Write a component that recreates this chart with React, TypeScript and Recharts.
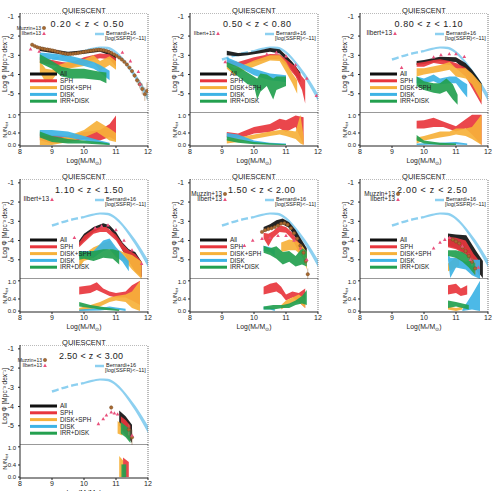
import React from 'react'
import {
  ComposedChart,
  Area,
  Scatter,
  ErrorBar,
  XAxis,
  YAxis,
  ReferenceLine,
} from 'recharts'

type Row = number[]

// Bernardi+16, log(sSFR) < -11 — the same local curve is shown in every bin
const BERNARDI_LOW: Row[] = [[9.0, -3.22], [9.25, -3.08], [9.5, -2.96], [9.75, -2.86], [10.0, -2.78]]
const BERNARDI_HIGH: Row[] = [
  [10.0, -2.83, -2.72], [10.25, -2.72, -2.61], [10.5, -2.65, -2.54], [10.75, -2.69, -2.56],
  [11.0, -2.93, -2.78], [11.2, -3.27, -3.1], [11.4, -3.72, -3.5], [11.6, -4.22, -3.95],
  [11.8, -4.78, -4.45], [12.0, -5.38, -5.0],
]

// 0.20 < z < 0.50
const Z1_ALL: Row[] = [[8.62, -2.78, -2.55], [9.0, -2.88, -2.68], [9.5, -3.0, -2.82], [10.0, -2.92, -2.74], [10.5, -2.82, -2.64], [10.8, -3.0, -2.75], [11.0, -3.55, -3.0]]
const Z1_SPH: Row[] = [[8.62, -3.4, -3.1], [9.0, -3.5, -3.25], [9.3, -3.6, -3.35], [9.6, -3.65, -3.4], [10.0, -3.35, -3.1], [10.5, -3.15, -2.9], [10.8, -3.2, -2.95], [11.0, -3.6, -3.15]]
const Z1_DSPH: Row[] = [[8.62, -3.9, -3.3], [8.8, -4.4, -3.7], [9.0, -4.3, -3.75], [9.2, -3.85, -3.5], [9.5, -3.7, -3.35], [10.0, -3.55, -3.2], [10.3, -3.35, -3.0], [10.5, -3.8, -3.3], [10.8, -3.5, -3.05], [11.0, -3.75, -3.3]]
const Z1_DISK: Row[] = [[8.62, -3.25, -2.85], [9.0, -3.2, -2.9], [9.5, -3.35, -3.0], [10.0, -3.55, -3.2], [10.3, -3.7, -3.35], [10.5, -3.9, -3.5], [10.8, -4.3, -3.8]]
const Z1_IRR: Row[] = [[8.62, -3.4, -2.95], [9.0, -3.7, -3.3], [9.3, -4.1, -3.6], [9.6, -4.2, -3.7], [10.0, -4.2, -3.7], [10.5, -4.3, -3.85], [10.7, -4.45, -3.9]]
const Z1_FSPH: Row[] = [[8.62, 0.16, 0.38], [9.0, 0.05, 0.33], [9.5, 0.1, 0.3], [10.0, 0.2, 0.43], [10.5, 0.15, 0.5], [10.8, 0.27, 0.7], [11.0, 0.15, 0.98]]
const Z1_FDSPH: Row[] = [[8.62, 0.0, 0.27], [9.0, 0.0, 0.15], [9.5, 0.1, 0.3], [10.0, 0.25, 0.5], [10.4, 0.43, 0.8], [10.8, 0.15, 0.55], [11.0, 0.1, 0.4]]
const Z1_FDISK: Row[] = [[8.62, 0.3, 0.5], [9.0, 0.3, 0.5], [9.5, 0.25, 0.45], [10.0, 0.15, 0.3], [10.5, 0.05, 0.15], [10.8, 0.0, 0.08]]
const Z1_FIRR: Row[] = [[8.62, 0.25, 0.45], [9.0, 0.1, 0.3], [9.5, 0.05, 0.2], [10.0, 0.05, 0.15], [10.5, 0.02, 0.1], [10.8, 0.0, 0.05]]
const Z1_MUZZIN: Row[] = [
  [8.38, -2.45, 0.05], [8.46, -2.52, 0.04], [8.54, -2.58, 0.04], [8.62, -2.62, 0.04], [8.7, -2.65, 0.03],
  [8.78, -2.68, 0.03], [8.86, -2.7, 0.03], [8.94, -2.72, 0.03], [9.02, -2.75, 0.03], [9.1, -2.78, 0.03],
  [9.18, -2.82, 0.03], [9.26, -2.86, 0.03], [9.34, -2.89, 0.03], [9.42, -2.92, 0.03], [9.5, -2.93, 0.03],
  [9.58, -2.93, 0.03], [9.66, -2.92, 0.03], [9.74, -2.9, 0.03], [9.82, -2.88, 0.03], [9.9, -2.86, 0.03],
  [9.98, -2.83, 0.03], [10.06, -2.8, 0.03], [10.14, -2.78, 0.03], [10.22, -2.76, 0.03], [10.3, -2.74, 0.03],
  [10.38, -2.72, 0.03], [10.46, -2.71, 0.03], [10.54, -2.72, 0.03], [10.62, -2.74, 0.03], [10.7, -2.77, 0.03],
  [10.78, -2.82, 0.03], [10.86, -2.88, 0.04], [10.94, -2.95, 0.04], [11.02, -3.03, 0.04], [11.1, -3.12, 0.05],
  [11.18, -3.22, 0.05], [11.26, -3.34, 0.06], [11.34, -3.48, 0.07], [11.42, -3.64, 0.08], [11.5, -3.82, 0.1],
  [11.58, -4.05, 0.12], [11.66, -4.3, 0.16], [11.74, -4.5, 0.22], [11.82, -4.75, 0.28], [11.9, -5.02, 0.35],
  [11.97, -4.85, 0.45],
]
const Z1_ILBERT: Row[] = [[8.33, -2.68], [8.6, -2.8], [11.2, -2.85], [11.45, -3.3], [11.7, -3.85], [11.75, -4.5]]

// 0.50 < z < 0.80
const Z2_ALL: Row[] = [[9.15, -3.0, -2.76], [9.5, -3.05, -2.88], [9.8, -3.0, -2.85], [10.0, -2.95, -2.8], [10.5, -2.82, -2.62], [10.8, -2.9, -2.68], [11.0, -3.27, -3.0], [11.2, -3.8, -3.35], [11.45, -4.4, -3.9]]
const Z2_SPH: Row[] = [[9.15, -3.45, -3.25], [9.5, -3.6, -3.35], [10.0, -3.35, -3.1], [10.5, -3.2, -2.93], [10.8, -3.2, -2.95], [11.0, -3.5, -3.2], [11.3, -4.1, -3.6], [11.5, -4.8, -4.1], [11.6, -5.5, -4.3]]
const Z2_DSPH: Row[] = [[9.15, -3.7, -3.44], [9.4, -4.05, -3.7], [9.6, -3.85, -3.55], [10.0, -3.6, -3.27], [10.5, -3.27, -3.0], [10.8, -3.3, -3.0], [11.0, -3.87, -3.35], [11.2, -4.46, -3.95], [11.35, -5.0, -4.3]]
const Z2_DISK: Row[] = [[9.15, -3.44, -3.1], [9.5, -3.6, -3.35], [10.0, -4.04, -3.7], [10.5, -4.3, -3.95], [10.8, -4.35, -4.0], [11.0, -4.4, -4.04]]
const Z2_IRR: Row[] = [[9.15, -3.6, -3.35], [9.5, -4.1, -3.6], [9.8, -4.5, -3.9], [10.0, -4.6, -4.1], [10.1, -5.3, -4.2], [10.2, -4.9, -3.95], [10.4, -4.6, -4.0], [10.6, -5.3, -4.2], [10.7, -4.8, -4.1], [11.0, -4.6, -4.1]]
const Z2_FSPH: Row[] = [[9.15, 0.27, 0.43], [9.5, 0.2, 0.38], [10.0, 0.38, 0.6], [10.5, 0.43, 0.7], [10.8, 0.55, 0.87], [11.0, 0.43, 0.82], [11.3, 0.6, 0.98], [11.55, 0.0, 0.92]]
const Z2_FDSPH: Row[] = [[9.15, 0.05, 0.2], [9.5, 0.1, 0.25], [10.0, 0.2, 0.35], [10.5, 0.3, 0.45], [10.8, 0.35, 0.5], [11.0, 0.3, 0.5], [11.3, 0.2, 0.45], [11.45, 0.05, 1.0], [11.55, 0.0, 0.3]]
const Z2_FDISK: Row[] = [[9.15, 0.25, 0.4], [9.5, 0.2, 0.35], [10.0, 0.05, 0.15], [10.5, 0.02, 0.08], [11.0, 0.0, 0.05]]
const Z2_FIRR: Row[] = [[9.15, 0.15, 0.28], [9.5, 0.08, 0.2], [10.0, 0.03, 0.1], [10.5, 0.01, 0.06], [11.0, 0.0, 0.03]]
const Z2_ILBERT: Row[] = [[9.1, -3.35], [10.4, -2.95], [10.7, -2.85], [11.0, -3.05], [11.3, -3.5], [11.65, -4.2], [11.95, -5.1]]

// 0.80 < z < 1.10
const Z3_ALL: Row[] = [[9.77, -3.5, -3.3], [10.0, -3.45, -3.25], [10.5, -3.3, -3.07], [11.0, -3.35, -3.1], [11.3, -3.8, -3.4], [11.5, -4.5, -3.75], [11.7, -5.05, -4.2], [11.8, -5.3, -4.45]]
const Z3_SPH: Row[] = [[9.77, -3.6, -3.4], [10.0, -3.6, -3.35], [10.3, -3.4, -3.25], [10.5, -3.45, -3.2], [10.8, -3.5, -3.3], [11.0, -3.67, -3.4], [11.3, -4.1, -3.65], [11.5, -4.7, -4.0], [11.8, -5.57, -4.7]]
const Z3_DSPH: Row[] = [[9.77, -4.1, -3.67], [10.0, -4.0, -3.67], [10.5, -3.85, -3.5], [10.8, -3.75, -3.35], [11.0, -4.1, -3.67], [11.3, -4.2, -3.67], [11.5, -4.5, -3.95], [11.8, -5.4, -4.5]]
const Z3_DISK: Row[] = [[9.77, -4.45, -4.1], [10.0, -4.45, -4.2], [10.3, -4.35, -4.0], [10.5, -4.5, -4.2], [10.8, -4.45, -4.1], [11.0, -4.45, -4.1], [11.2, -4.9, -4.35], [11.35, -5.2, -4.5]]
const Z3_IRR: Row[] = [[9.77, -4.6, -4.1], [10.0, -4.8, -4.35], [10.3, -4.95, -4.45], [10.5, -5.0, -4.45], [10.7, -4.85, -4.2], [10.9, -5.3, -4.5], [11.05, -5.57, -5.05]]
const Z3_FSPH: Row[] = [[9.77, 0.55, 0.8], [10.0, 0.55, 0.82], [10.3, 0.6, 0.9], [10.6, 0.6, 0.78], [11.0, 0.45, 0.62], [11.3, 0.55, 0.85], [11.5, 0.35, 1.0], [11.8, 0.0, 1.0]]
const Z3_FDSPH: Row[] = [[9.77, 0.05, 0.25], [10.0, 0.15, 0.3], [10.5, 0.25, 0.45], [10.8, 0.3, 0.45], [11.0, 0.35, 0.55], [11.3, 0.3, 0.55], [11.5, 0.2, 0.6], [11.8, 0.0, 1.0]]
const Z3_FDISK: Row[] = [[9.77, 0.0, 0.05], [10.5, 0.02, 0.08], [11.0, 0.02, 0.1], [11.35, 0.0, 0.05]]
const Z3_FIRR: Row[] = [[9.77, 0.15, 0.33], [10.0, 0.05, 0.15], [10.5, 0.0, 0.08], [11.0, 0.0, 0.05]]
const Z3_ILBERT: Row[] = [[9.3, -3.65], [10.3, -3.1], [10.53, -2.98], [10.79, -2.93], [11.0, -2.93], [11.26, -3.07]]

// 1.10 < z < 1.50
const Z4_ALL: Row[] = [[9.85, -4.27, -4.0], [10.0, -4.0, -3.65], [10.3, -3.55, -3.3], [10.6, -3.3, -3.1], [10.8, -3.4, -3.2], [11.0, -3.9, -3.55], [11.2, -4.5, -4.1], [11.4, -5.07, -4.45], [11.6, -5.6, -4.6], [11.8, -5.9, -5.1]]
const Z4_SPH: Row[] = [[9.85, -4.35, -4.1], [10.0, -4.1, -3.75], [10.3, -3.65, -3.4], [10.5, -3.55, -3.3], [10.7, -3.55, -3.3], [11.0, -4.0, -3.7], [11.2, -4.5, -4.15], [11.4, -5.07, -4.5], [11.6, -5.6, -4.7], [11.8, -5.9, -5.1]]
const Z4_DSPH: Row[] = [[9.85, -5.4, -5.0], [10.0, -5.07, -4.7], [10.3, -4.9, -4.35], [10.5, -4.55, -4.2], [10.8, -4.45, -4.0], [11.0, -4.9, -4.45], [11.3, -5.1, -4.65], [11.5, -5.5, -4.75], [11.8, -6.0, -5.1]]
const Z4_DISK: Row[] = [[9.85, -4.9, -4.55], [10.0, -4.8, -4.55], [10.3, -4.9, -4.55], [10.6, -4.55, -4.0], [10.8, -4.45, -3.9], [11.0, -4.8, -4.35], [11.2, -5.1, -4.7], [11.4, -5.6, -5.07]]
const Z4_IRR: Row[] = [[9.85, -5.0, -4.55], [10.0, -4.95, -4.6], [10.3, -5.07, -4.55], [10.6, -4.9, -4.45], [10.9, -4.95, -4.45], [11.1, -5.25, -4.55]]
const Z4_FSPH: Row[] = [[9.85, 0.55, 0.8], [10.2, 0.6, 0.85], [10.4, 0.7, 0.95], [10.6, 0.6, 0.75], [10.8, 0.5, 0.65], [11.0, 0.45, 0.6], [11.3, 0.45, 0.65], [11.5, 0.35, 0.85], [11.75, 0.2, 1.0]]
const Z4_FDSPH: Row[] = [[9.85, 0.0, 0.1], [10.2, 0.05, 0.2], [10.5, 0.15, 0.3], [10.8, 0.3, 0.45], [11.0, 0.35, 0.5], [11.3, 0.3, 0.55], [11.5, 0.1, 0.65], [11.75, 0.0, 1.0]]
const Z4_FDISK: Row[] = [[9.85, 0.0, 0.05], [10.5, 0.02, 0.1], [10.8, 0.05, 0.15], [11.0, 0.05, 0.12], [11.3, 0.0, 0.08]]
const Z4_FIRR: Row[] = [[9.85, 0.15, 0.3], [10.2, 0.1, 0.2], [10.5, 0.05, 0.15], [10.8, 0.03, 0.1], [11.1, 0.0, 0.05]]
const Z4_ILBERT: Row[] = [[9.7, -3.85], [10.35, -3.35], [10.55, -3.25], [10.75, -3.2], [11.0, -3.45], [11.25, -4.0], [11.5, -4.5], [11.8, -5.2]]

// 1.50 < z < 2.00
const Z5_ALL: Row[] = [[10.3, -3.55, -3.3], [10.5, -3.42, -3.15], [10.7, -3.22, -2.95], [10.9, -3.15, -2.85], [11.1, -3.35, -3.05], [11.3, -3.85, -3.45], [11.5, -4.6, -4.0], [11.65, -5.0, -4.4]]
const Z5_SPH: Row[] = [[10.3, -3.9, -3.6], [10.45, -4.3, -3.65], [10.6, -3.85, -3.5], [10.8, -3.55, -3.2], [11.0, -3.6, -3.3], [11.2, -3.95, -3.6], [11.4, -4.6, -4.1], [11.6, -5.07, -4.5]]
const Z5_DSPH: Row[] = [[10.85, -4.6, -4.1], [11.1, -4.5, -3.95], [11.3, -4.5, -4.0], [11.5, -4.8, -4.25], [11.65, -5.5, -4.6]]
const Z5_DISK: Row[] = [[10.3, -4.54, -4.27], [10.5, -4.6, -4.35], [10.65, -4.8, -4.45]]
const Z5_IRR: Row[] = [[10.3, -4.63, -4.27], [10.5, -4.75, -4.4], [10.7, -4.95, -4.3], [10.9, -5.25, -4.6], [11.1, -5.1, -4.55], [11.3, -5.35, -4.8], [11.5, -5.25, -4.4], [11.65, -5.35, -4.55]]
const Z5_FSPH: Row[] = [[10.3, 0.55, 0.8], [10.5, 0.6, 0.9], [10.7, 0.65, 0.95], [10.85, 0.55, 0.8], [11.0, 0.35, 0.55], [11.2, 0.45, 0.65], [11.4, 0.3, 0.6], [11.6, 0.1, 0.75]]
const Z5_FDSPH: Row[] = [[10.85, 0.05, 0.2], [11.0, 0.15, 0.35], [11.2, 0.25, 0.45], [11.4, 0.3, 0.55], [11.6, 0.1, 0.4]]
const Z5_FDISK: Row[] = [[10.3, 0.05, 0.15], [10.5, 0.05, 0.12], [10.65, 0.0, 0.08]]
const Z5_FIRR: Row[] = [[10.3, 0.05, 0.15], [10.6, 0.05, 0.2], [10.9, 0.1, 0.2], [11.1, 0.1, 0.25], [11.3, 0.2, 0.35], [11.5, 0.25, 0.5], [11.65, 0.2, 0.7]]
const Z5_MUZZIN: Row[] = [
  [10.25, -3.55, 0.05], [10.35, -3.46, 0.04], [10.45, -3.4, 0.04], [10.55, -3.36, 0.04], [10.65, -3.3, 0.04],
  [10.75, -3.22, 0.04], [10.85, -3.12, 0.04], [10.95, -3.1, 0.04], [11.05, -3.18, 0.05], [11.15, -3.36, 0.05],
  [11.25, -3.62, 0.06], [11.35, -3.9, 0.08], [11.45, -4.27, 0.1], [11.55, -4.63, 0.14], [11.62, -5.07, 0.2],
  [11.68, -5.75, 0.3],
]
const Z5_ILBERT: Row[] = [[9.7, -4.27], [9.96, -4.0], [10.25, -3.9], [10.5, -3.85], [10.75, -3.75], [11.0, -3.75], [11.25, -4.0], [11.45, -4.4], [11.65, -5.0]]

// 2.00 < z < 2.50
const Z6_ALL: Row[] = [[10.75, -4.27, -3.64], [11.0, -4.4, -3.68], [11.32, -4.7, -3.73], [11.63, -5.5, -4.54], [11.84, -5.96, -5.07]]
const Z6_SPH: Row[] = [[10.75, -4.35, -3.8], [11.0, -4.45, -3.85], [11.3, -4.75, -4.0], [11.55, -5.3, -4.7], [11.75, -5.9, -5.1]]
const Z6_DSPH: Row[] = [[10.75, -5.6, -5.2], [10.9, -5.5, -5.0], [11.0, -5.4, -4.8], [11.1, -5.3, -4.95]]
const Z6_DISK: Row[] = [[10.75, -5.0, -4.7], [10.82, -5.95, -4.9], [11.0, -5.4, -4.9], [11.3, -5.5, -5.1], [11.5, -5.8, -5.0], [11.75, -6.0, -5.0]]
const Z6_IRR: Row[] = [[10.75, -4.8, -4.5], [11.0, -4.9, -4.5], [11.2, -5.1, -4.6], [11.4, -5.4, -4.8], [11.6, -5.8, -5.2]]
const Z6_FSPH: Row[] = [[10.75, 0.55, 0.85], [11.0, 0.6, 0.9], [11.15, 0.5, 0.75], [11.35, 0.55, 0.85]]
const Z6_FDSPH: Row[] = [[10.75, 0.05, 0.15], [11.0, 0.0, 0.1], [11.2, 0.05, 0.15]]
const Z6_FDISK: Row[] = [[11.2, 0.0, 0.05], [11.5, 0.05, 0.55], [11.75, 0.0, 1.0]]
const Z6_FIRR: Row[] = [[10.75, 0.1, 0.35], [11.0, 0.15, 0.3], [11.2, 0.1, 0.25], [11.4, 0.05, 0.2]]
const Z6_MUZZIN: Row[] = [[10.9, -3.95, 0.08], [11.0, -4.05, 0.08], [11.1, -4.15, 0.1], [11.2, -4.35, 0.1], [11.3, -4.55, 0.12], [11.4, -4.8, 0.15], [11.5, -5.1, 0.2], [11.6, -5.45, 0.3]]
const Z6_ILBERT: Row[] = [[10.3, -4.4], [10.5, -4.1], [10.65, -3.95], [10.8, -3.85], [11.2, -4.3], [11.45, -5.0], [11.7, -5.4]]

// 2.50 < z < 3.00
const Z7_ALL: Row[] = [[11.1, -5.0, -4.2], [11.3, -5.4, -4.5], [11.5, -5.9, -4.95]]
const Z7_SPH: Row[] = [[11.15, -5.2, -4.5], [11.3, -5.5, -4.7], [11.45, -5.8, -5.0]]
const Z7_DSPH: Row[] = [[11.05, -5.4, -4.75], [11.2, -5.5, -4.95]]
const Z7_DISK: Row[] = []
const Z7_IRR: Row[] = [[11.15, -5.4, -4.8], [11.3, -5.6, -5.0], [11.45, -5.9, -5.2]]
const Z7_FSPH: Row[] = [[11.22, 0.0, 0.65], [11.4, 0.0, 0.5]]
const Z7_FDSPH: Row[] = [[11.1, 0.0, 0.7], [11.22, 0.0, 0.55]]
const Z7_FDISK: Row[] = []
const Z7_FIRR: Row[] = [[11.17, 0.0, 0.42], [11.32, 0.0, 0.42]]
const Z7_MUZZIN: Row[] = [[10.85, -4.05, 0.1], [11.4, -5.2, 0.3], [11.5, -5.6, 0.4]]
const Z7_ILBERT: Row[] = [[10.45, -4.9], [10.6, -4.65], [10.7, -4.45], [10.85, -4.3], [10.95, -4.35], [11.05, -4.4], [11.5, -5.5]]

const Z_LABELS = [
  '0.20 < z < 0.50', '0.50 < z < 0.80', '0.80 < z < 1.10', '1.10 < z < 1.50',
  '1.50 < z < 2.00', '2.00 < z < 2.50', '2.50 < z < 3.00',
]

const PANELS = [
  { all: Z1_ALL, sph: Z1_SPH, dsph: Z1_DSPH, disk: Z1_DISK, irr: Z1_IRR, fsph: Z1_FSPH, fdsph: Z1_FDSPH, fdisk: Z1_FDISK, firr: Z1_FIRR, muzzin: Z1_MUZZIN, ilbert: Z1_ILBERT, legX: 41, legFont: 5, zX: 87, zW: 73 },
  { all: Z2_ALL, sph: Z2_SPH, dsph: Z2_DSPH, disk: Z2_DISK, irr: Z2_IRR, fsph: Z2_FSPH, fdsph: Z2_FDSPH, fdisk: Z2_FDISK, firr: Z2_FIRR, muzzin: null, ilbert: Z2_ILBERT, legX: 45, legFont: 5.4, zX: 87, zW: 68 },
  { all: Z3_ALL, sph: Z3_SPH, dsph: Z3_DSPH, disk: Z3_DISK, irr: Z3_IRR, fsph: Z3_FSPH, fdsph: Z3_FDSPH, fdisk: Z3_FDISK, firr: Z3_FIRR, muzzin: null, ilbert: Z3_ILBERT, legX: 52, legFont: 6.5, zX: 88.5, zW: 68 },
  { all: Z4_ALL, sph: Z4_SPH, dsph: Z4_DSPH, disk: Z4_DISK, irr: Z4_IRR, fsph: Z4_FSPH, fdsph: Z4_FDSPH, fdisk: Z4_FDISK, firr: Z4_FIRR, muzzin: null, ilbert: Z4_ILBERT, legX: 49, legFont: 6.5, zX: 89, zW: 68 },
  { all: Z5_ALL, sph: Z5_SPH, dsph: Z5_DSPH, disk: Z5_DISK, irr: Z5_IRR, fsph: Z5_FSPH, fdsph: Z5_FDSPH, fdisk: Z5_FDISK, firr: Z5_FIRR, muzzin: Z5_MUZZIN, ilbert: Z5_ILBERT, legX: 52, legFont: 6.3, zX: 91.5, zW: 67 },
  { all: Z6_ALL, sph: Z6_SPH, dsph: Z6_DSPH, disk: Z6_DISK, irr: Z6_IRR, fsph: Z6_FSPH, fdsph: Z6_FDSPH, fdisk: Z6_FDISK, firr: Z6_FIRR, muzzin: Z6_MUZZIN, ilbert: Z6_ILBERT, legX: 55, legFont: 6.3, zX: 92, zW: 70 },
  { all: Z7_ALL, sph: Z7_SPH, dsph: Z7_DSPH, disk: Z7_DISK, irr: Z7_IRR, fsph: Z7_FSPH, fdsph: Z7_FDSPH, fdisk: Z7_FDISK, firr: Z7_FIRR, muzzin: Z7_MUZZIN, ilbert: Z7_ILBERT, legX: 42, legFont: 5, zX: 91, zW: 64 },
]

const SERIES = [
  { key: 'all', frac: null, label: 'All', color: '#111111' },
  { key: 'sph', frac: 'fsph', label: 'SPH', color: '#E8363D' },
  { key: 'dsph', frac: 'fdsph', label: 'DISK+SPH', color: '#F6B13A' },
  { key: 'disk', frac: 'fdisk', label: 'DISK', color: '#3DB3E5' },
  { key: 'irr', frac: 'firr', label: 'IRR+DISK', color: '#23A04F' },
]

const BERNARDI = '#8DD0F0'
const MUZZIN = '#A86A30'
const ILBERT = '#E9507C'
const AXIS = '#222222'
const FONT = '"Liberation Sans", Arial, sans-serif'

const COL_W = 170
const ROW_H = 166
const AXIS_W = 20
const PLOT_W = 128
const PAD_R = 6
const MAIN_TOP = 13
const MAIN_H = 100
const FRAC_H = 33
const XAXIS_H = 14

const mass = (d: Row) => d[0]
const value = (d: Row) => d[1]
const span = (d: Row) => [d[1], d[2]]
const spread = (d: Row) => d[2] ?? 0

const muzzinDot = (p: any) => (
  <circle cx={p.cx} cy={p.cy} r={1.7} fill={MUZZIN} stroke="#6E4520" strokeWidth={0.4} />
)
const ilbertDot = (p: any) => (
  <polygon
    points={`${p.cx},${p.cy - 2} ${p.cx - 1.8},${p.cy + 1.3} ${p.cx + 1.8},${p.cy + 1.3}`}
    fill={ILBERT}
  />
)

const tickStyle = { fontSize: 7, fill: AXIS, fontFamily: FONT }

function Panel({ p, index }: { p: any; index: number }) {
  const left = (index % 3) * COL_W
  const top = Math.floor(index / 3) * ROW_H
  const legendY = [74, 80.8, 87.6, 94.4, 101.2]

  return (
    <div style={{ position: 'absolute', left, top, width: COL_W, height: ROW_H }}>
      {/* mass function */}
      <div style={{ position: 'absolute', left: 0, top: MAIN_TOP }}>
        <ComposedChart
          width={AXIS_W + PLOT_W + PAD_R}
          height={MAIN_H}
          margin={{ top: 0, right: PAD_R, bottom: 0, left: 0 }}
        >
          <XAxis type="number" dataKey={mass} domain={[8, 12]} hide allowDataOverflow />
          <YAxis
            type="number"
            domain={[-6, -0.8]}
            ticks={[-6, -5, -4, -3, -2, -1]}
            width={AXIS_W}
            allowDataOverflow
            tick={tickStyle}
            tickSize={2}
            tickMargin={4}
            axisLine={{ stroke: AXIS }}
            tickLine={{ stroke: AXIS }}
          />
          <Area
            data={BERNARDI_LOW}
            dataKey={value}
            type="monotone"
            stroke={BERNARDI}
            strokeWidth={2.4}
            strokeDasharray="7 3"
            fill="none"
            dot={false}
            activeDot={false}
            isAnimationActive={false}
          />
          <Area
            data={BERNARDI_HIGH}
            dataKey={span}
            type="monotone"
            stroke="none"
            fill={BERNARDI}
            fillOpacity={1}
            dot={false}
            activeDot={false}
            isAnimationActive={false}
          />
          {SERIES.filter((s) => p[s.key].length > 0).map((s) => (
            <Area
              key={s.key}
              data={p[s.key]}
              dataKey={span}
              type="linear"
              stroke="none"
              fill={s.color}
              fillOpacity={0.92}
              dot={false}
              activeDot={false}
              isAnimationActive={false}
            />
          ))}
          {p.muzzin && (
            <Scatter data={p.muzzin} dataKey={value} shape={muzzinDot} isAnimationActive={false}>
              <ErrorBar dataKey={spread} direction="y" width={0} stroke="#B08860" strokeWidth={0.6} />
            </Scatter>
          )}
          <Scatter data={p.ilbert} dataKey={value} shape={ilbertDot} isAnimationActive={false} />
          <ReferenceLine y={-0.8} stroke="#777" strokeDasharray="1 1" />
          <ReferenceLine x={12} stroke="#777" strokeDasharray="1 1" />
          <ReferenceLine y={-6} stroke="#333" />
        </ComposedChart>
      </div>

      {/* fractions */}
      <div style={{ position: 'absolute', left: 0, top: MAIN_TOP + MAIN_H }}>
        <ComposedChart
          width={AXIS_W + PLOT_W + PAD_R}
          height={FRAC_H + XAXIS_H}
          margin={{ top: 0, right: PAD_R, bottom: 0, left: 0 }}
        >
          <XAxis
            type="number"
            dataKey={mass}
            domain={[8, 12]}
            ticks={[8, 9, 10, 11, 12]}
            interval={0}
            height={XAXIS_H}
            allowDataOverflow
            tick={tickStyle}
            tickSize={2}
            tickMargin={1}
            axisLine={{ stroke: AXIS }}
            tickLine={{ stroke: AXIS }}
          />
          <YAxis
            type="number"
            domain={[-0.03, 1.06]}
            ticks={[0, 0.2, 0.4, 0.6, 0.8, 1.0]}
            tickFormatter={(v: number) => v.toFixed(1)}
            width={AXIS_W}
            allowDataOverflow
            tick={{ ...tickStyle, fontSize: 6 }}
            tickSize={2}
            tickMargin={2}
            axisLine={{ stroke: AXIS }}
            tickLine={{ stroke: AXIS }}
          />
          {SERIES.filter((s) => s.frac && p[s.frac].length > 0).map((s) => (
            <Area
              key={s.key}
              data={p[s.frac as string]}
              dataKey={span}
              type="linear"
              stroke="none"
              fill={s.color}
              fillOpacity={0.92}
              dot={false}
              activeDot={false}
              isAnimationActive={false}
            />
          ))}
          <ReferenceLine x={12} stroke="#777" strokeDasharray="1 1" />
        </ComposedChart>
      </div>

      {/* titles, axis names and legends */}
      <svg
        width={COL_W}
        height={ROW_H}
        style={{ position: 'absolute', left: 0, top: 0, overflow: 'visible', pointerEvents: 'none' }}
        fontFamily={FONT}
        fill={AXIS}
      >
        <text x={84} y={12.5} fontSize={7.5} textAnchor="middle">QUIESCENT</text>
        <text x={p.zX} y={26.6} fontSize={9} textAnchor="middle" textLength={p.zW} lengthAdjust="spacing">
          {Z_LABELS[index]}
        </text>

        {p.muzzin && (
          <g>
            <text x={p.legX} y={29.6} fontSize={p.legFont} textAnchor="end">Muzzin+13</text>
            <circle cx={p.legX + 3} cy={28} r={1.7} fill={MUZZIN} stroke="#6E4520" strokeWidth={0.4} />
          </g>
        )}
        <text x={p.legX} y={35.2} fontSize={p.legFont} textAnchor="end">Ilbert+13</text>
        <polygon
          points={`${p.legX + 3},${31.6} ${p.legX + 1.2},${34.9} ${p.legX + 4.8},${34.9}`}
          fill={ILBERT}
        />

        <line x1={95} x2={104} y1={34} y2={34} stroke={BERNARDI} strokeWidth={2.5} />
        <text x={106} y={35.3} fontSize={5.5}>Bernardi+16</text>
        <text x={105} y={39.8} fontSize={5.5}>[log(SSFR)&lt;−11]</text>

        {SERIES.map((s, i) => (
          <g key={s.key}>
            <line x1={30} x2={57} y1={legendY[i]} y2={legendY[i]} stroke={s.color} strokeWidth={3} />
            <text x={60} y={legendY[i] + 2.2} fontSize={6.3}>{s.label}</text>
          </g>
        ))}

        <text transform="translate(6.5,64) rotate(-90)" fontSize={6.5} textAnchor="middle">
          Log Φ [Mpc⁻³ dex⁻¹]
        </text>
        <text transform="translate(6.5,130) rotate(-90)" fontSize={6} textAnchor="middle">
          N<tspan fontSize={4} dy={1.5}>i</tspan>
          <tspan dy={-1.5}>/N</tspan>
          <tspan fontSize={4} dy={1.5}>tot</tspan>
        </text>
        <text x={84} y={163} fontSize={6.8} textAnchor="middle">
          Log(M<tspan fontSize={4.5} dy={1.5}>*</tspan>
          <tspan dy={-1.5}>/M</tspan>
          <tspan fontSize={4.5} dy={1.5}>⊙</tspan>
          <tspan dy={-1.5}>)</tspan>
        </text>
      </svg>
    </div>
  )
}

export default function App() {
  return (
    <div
      style={{
        position: 'absolute',
        left: 0,
        top: 0,
        width: 499,
        height: 491,
        background: '#fff',
        overflow: 'hidden',
        fontFamily: FONT,
      }}
    >
      {PANELS.map((p, i) => (
        <Panel key={i} p={p} index={i} />
      ))}
    </div>
  )
}
